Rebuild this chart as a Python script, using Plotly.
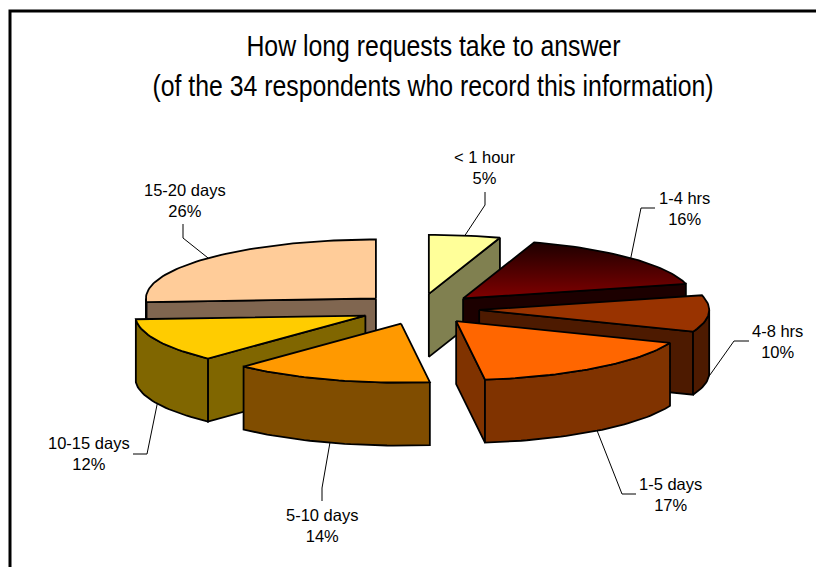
import math
import plotly.graph_objects as go

categories = ["< 1 hour", "1-4 hrs", "4-8 hrs", "1-5 days", "5-10 days", "10-15 days", "15-20 days"]
percent = [5, 16, 10, 17, 14, 12, 26]
top_colors = ["#FFFF99", "#800000", "#993300", "#FF6600", "#FF9900", "#FFCC00", "#FFCC99"]
wall_colors = ["#808050", "#1C0000", "#4D1A00", "#803300", "#804D00", "#806600", "#806650"]

# pie geometry, in pixels of the page
CX, CY, RX, RY, DEPTH, EXPLODE = 419.5, 309.0, 230.0, 59.0, 63.0, 0.26
DRAW_ORDER = [6, 0, 1, 2, 5, 4, 3]
# elbow and end of each leader line, and label centre
LEADERS = [
    ((485, 205), (485, 192), (485, 167)),
    ((641, 208), (655, 208), (684, 208)),
    ((734, 341), (749, 341), (777, 341)),
    ((622, 494), (636, 494), (670, 494)),
    ((322, 488), (322, 501), (322, 525)),
    ((147, 454), (133, 454), (89, 453)),
    ((183, 238), (183, 224), (185, 200)),
]
TITLE_LINES = ["How long requests take to answer",
               "(of the 34 respondents who record this information)"]

total = sum(percent)
bounds = [0.0]
for p in percent:
    bounds.append(bounds[-1] + p / total * 360.0)


def pt(a, ox, oy, dz=0.0):
    r = math.radians(a)
    return ox + RX * math.sin(r), oy - RY * math.cos(r) + dz


def arc(a0, a1, ox, oy, dz=0.0):
    n = max(2, int(abs(a1 - a0) / 1.5))
    return [pt(a0 + (a1 - a0) * i / n, ox, oy, dz) for i in range(n + 1)]


fig = go.Figure()


def poly(points, color, name, gradient=None):
    xs = [p[0] for p in points] + [points[0][0]]
    ys = [p[1] for p in points] + [points[0][1]]
    kw = dict(fillgradient=gradient) if gradient else dict(fillcolor=color)
    fig.add_trace(go.Scatter(x=xs, y=ys, mode="lines", fill="toself", name=name,
                             line=dict(color="#000000", width=1.8), showlegend=False,
                             hoverinfo="name", **kw))


for i in DRAW_ORDER:
    a0, a1 = bounds[i], bounds[i + 1]
    mid = (a0 + a1) / 2
    r = math.radians(mid)
    ox = CX + EXPLODE * RX * math.sin(r)
    oy = CY - EXPLODE * RY * math.cos(r)
    s0 = math.sin(math.radians(a0))
    s1 = math.sin(math.radians(a1))
    if s0 < -1e-6:
        p = pt(a0, ox, oy)
        poly([(ox, oy), p, (p[0], p[1] + DEPTH), (ox, oy + DEPTH)], wall_colors[i], categories[i])
    if s1 > 1e-6:
        p = pt(a1, ox, oy)
        poly([(ox, oy), p, (p[0], p[1] + DEPTH), (ox, oy + DEPTH)], wall_colors[i], categories[i])
    lo, hi = max(a0, 90.0), min(a1, 270.0)
    if lo < hi:
        poly(arc(lo, hi, ox, oy) + arc(hi, lo, ox, oy, DEPTH), wall_colors[i], categories[i])
    grad = None
    if categories[i] == "1-4 hrs":
        grad = dict(type="vertical", colorscale=[[0, "#800000"], [1, "#1E0000"]])
    poly([(ox, oy)] + arc(a0, a1, ox, oy), top_colors[i], categories[i], grad)

annotations = []
for i, (knee, end, lab) in enumerate(LEADERS):
    a0, a1 = bounds[i], bounds[i + 1]
    mid = (a0 + a1) / 2
    r = math.radians(mid)
    ox = CX + EXPLODE * RX * math.sin(r)
    oy = CY - EXPLODE * RY * math.cos(r)
    start = pt(mid, ox, oy, DEPTH if math.cos(r) < 0 else 0.0)
    fig.add_trace(go.Scatter(x=[start[0], knee[0], end[0]], y=[start[1], knee[1], end[1]],
                             mode="lines", line=dict(color="#000000", width=1),
                             showlegend=False, hoverinfo="skip"))
    annotations.append(dict(x=lab[0], y=lab[1], xref="x", yref="y", showarrow=False,
                            text=f"{categories[i].replace('<', '&lt;')}<br>{percent[i]}%",
                            align="center", font=dict(family="Liberation Sans", size=16.5, color="#000000")))

TITLE_FONT = dict(family="Liberation Sans", size=29, color="#000000")
annotations.append(dict(x=433, y=46, xref="x", yref="y", showarrow=False,
                        text=TITLE_LINES[0], font=TITLE_FONT))
annotations.append(dict(x=433, y=86, xref="x", yref="y", showarrow=False,
                        text=TITLE_LINES[1], font=TITLE_FONT))

fig.update_layout(
    width=816, height=567, margin=dict(l=0, r=0, t=0, b=0),
    paper_bgcolor="white", plot_bgcolor="white", showlegend=False,
    xaxis=dict(range=[0, 816], visible=False, fixedrange=True),
    yaxis=dict(range=[567, 0], visible=False, fixedrange=True),
    annotations=annotations,
    shapes=[dict(type="rect", x0=10, y0=11, x1=830, y1=590, xref="x", yref="y",
                 line=dict(color="#000000", width=3), layer="below")],
)

# the title of the reference is a horizontally condensed Arial; no narrow face is installed
POST = """
document.body.style.margin = '0';
function squeeze() {
  var widths = {'How long': 374, '(of the': 561};
  document.querySelectorAll('.annotation-text').forEach(function (t) {
    Object.keys(widths).forEach(function (k) {
      if (t.textContent.indexOf(k) === 0) {
        t.setAttribute('textLength', widths[k]);
        t.setAttribute('lengthAdjust', 'spacingAndGlyphs');
      }
    });
  });
}
squeeze();
setTimeout(squeeze, 50);
"""
fig.write_html("out.html", config={"displayModeBar": False}, post_script=POST)
